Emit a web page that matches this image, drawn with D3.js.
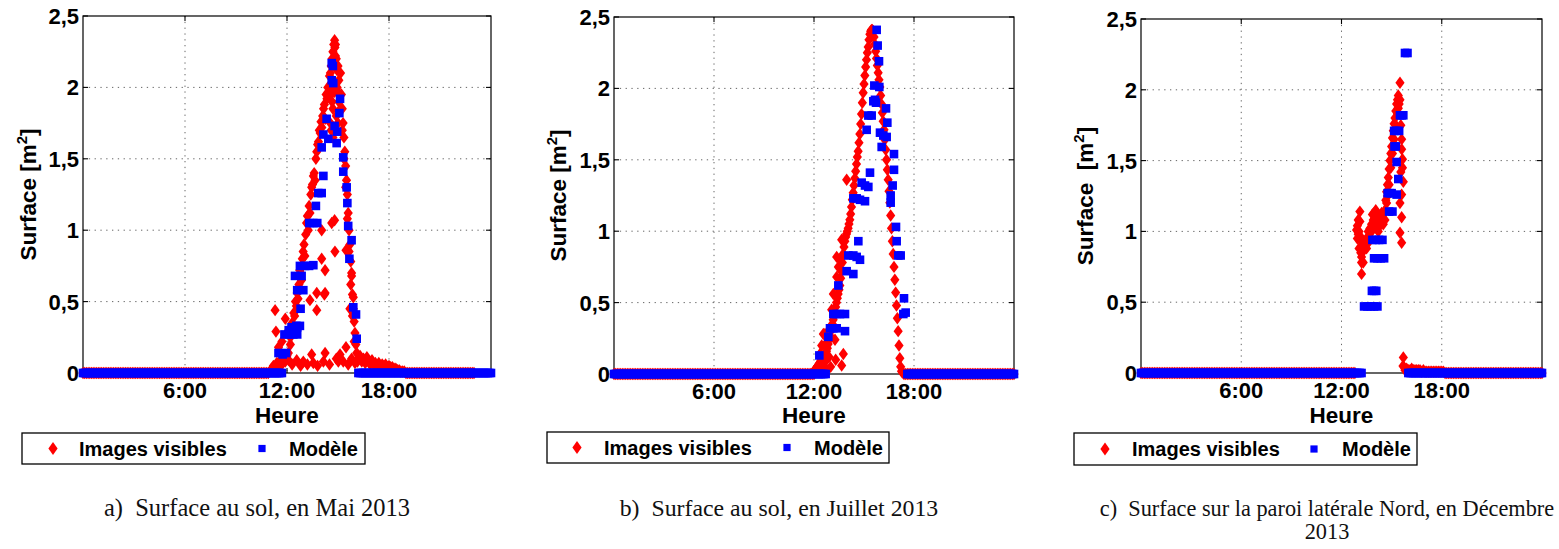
<!DOCTYPE html>
<html><head><meta charset="utf-8">
<script src="https://cdn.jsdelivr.net/npm/d3@7"></script>
<style>
html,body{margin:0;padding:0;background:#fff;}
svg{display:block;}
text{white-space:pre;}
</style></head><body>
<svg id="chart" width="1559" height="549"></svg>
<script>
// ---------- shared categories / ticks ----------
const dayHours = [
0,0.1,0.2,0.3,0.4,0.5,0.6,0.7,0.8,0.9,
1,1.1,1.2,1.3,1.4,1.5,1.6,1.7,1.8,1.9,
2,2.1,2.2,2.3,2.4,2.5,2.6,2.7,2.8,2.9,
3,3.1,3.2,3.3,3.4,3.5,3.6,3.7,3.8,3.9,
4,4.1,4.2,4.3,4.4,4.5,4.6,4.7,4.8,4.9,
5,5.1,5.2,5.3,5.4,5.5,5.6,5.7,5.8,5.9,
6,6.1,6.2,6.3,6.4,6.5,6.6,6.7,6.8,6.9,
7,7.1,7.2,7.3,7.4,7.5,7.6,7.7,7.8,7.9,
8,8.1,8.2,8.3,8.4,8.5,8.6,8.7,8.8,8.9,
9,9.1,9.2,9.3,9.4,9.5,9.6,9.7,9.8,9.9,
10,10.1,10.2,10.3,10.4,10.5,10.6,10.7,10.8,10.9,
11,11.1,11.2,11.3,11.4,11.5,11.6,11.7,11.8,11.9,
12,12.1,12.2,12.3,12.4,12.5,12.6,12.7,12.8,12.9,
13,13.1,13.2,13.3,13.4,13.5,13.6,13.7,13.8,13.9,
14,14.1,14.2,14.3,14.4,14.5,14.6,14.7,14.8,14.9,
15,15.1,15.2,15.3,15.4,15.5,15.6,15.7,15.8,15.9,
16,16.1,16.2,16.3,16.4,16.5,16.6,16.7,16.8,16.9,
17,17.1,17.2,17.3,17.4,17.5,17.6,17.7,17.8,17.9,
18,18.1,18.2,18.3,18.4,18.5,18.6,18.7,18.8,18.9,
19,19.1,19.2,19.3,19.4,19.5,19.6,19.7,19.8,19.9,
20,20.1,20.2,20.3,20.4,20.5,20.6,20.7,20.8,20.9,
21,21.1,21.2,21.3,21.4,21.5,21.6,21.7,21.8,21.9,
22,22.1,22.2,22.3,22.4,22.5,22.6,22.7,22.8,22.9,
23,23.1,23.2,23.3,23.4,23.5,23.6,23.7,23.8,23.9,
24];
const xTickHours = [6, 12, 18];
const xTickLabels = ["6:00", "12:00", "18:00"];
const yTickValues = [0, 0.5, 1, 1.5, 2, 2.5];
const yTickLabels = ["0", "0,5", "1", "1,5", "2", "2,5"];
const seriesNames = ["Images visibles", "Modèle"];
const xAxisTitle = "Heure";
const captionsLine1 = ["a)  Surface au sol, en Mai 2013", "b)  Surface au sol, en Juillet 2013", "c)  Surface sur la paroi latérale Nord, en Décembre"];
const captionsLine2 = ["", "", "2013"];

// ---------- (a) Mai 2013 ----------
// hours ranges of the day where the series reads 0
const mayImagesZeroRuns = [[0, 10.9], [19.0, 23.0]];
const mayModelZeroRuns = [[0, 11.7], [16.2, 24]];
const mayImages = [
[11.1,0.03],[11.2,0.05],[11.3,0.04],[11.4,0.07],[11.5,0.05],[11.6,0.09],[11.7,0.06],[11.8,0.1],[11.9,0.08],[12.0,0.12],[12.1,0.09],
[11.3,0.44],[11.35,0.29],[11.5,0.18],[11.9,0.38],[11.7,0.22],[12.1,0.3],[12.2,0.2],[12.08,0.14],
[12.3,0.06],[12.57,0.09],[12.8,0.05],[12.96,0.08],[13.2,0.06],[13.45,0.13],[13.55,0.07],[13.8,0.05],[14.14,0.08],[14.24,0.14],[14.5,0.06],[14.9,0.1],[15.02,0.08],[15.12,0.13],[15.31,0.08],[15.6,0.06],[15.8,0.1],[16.0,0.07],
[16.2,0.1],[16.3,0.12],[16.4,0.08],[16.5,0.1],[16.6,0.07],[16.7,0.11],[16.8,0.08],[16.9,0.06],[17.0,0.09],[17.1,0.06],[17.2,0.07],[17.3,0.05],[17.4,0.07],[17.5,0.05],[17.6,0.06],[17.7,0.05],[17.8,0.06],[17.9,0.04],[18.0,0.05],[18.1,0.04],[18.2,0.04],[18.3,0.03],[18.4,0.03],[18.5,0.02],[18.6,0.02],[18.7,0.01],[18.8,0.01],[18.9,0.01],
[12.2,0.25],[12.3,0.35],[12.4,0.42],[12.5,0.5],[12.6,0.56],[12.7,0.62],[12.8,0.7],[12.9,0.8],[13.0,0.9],[13.1,0.97],[13.2,1.1],[13.3,1.17],[13.4,1.25],[13.5,1.32],[13.6,1.4],[13.7,1.5],[13.8,1.6],[13.9,1.7],[14.0,1.76],[14.1,1.8],[14.2,1.88],[14.3,1.95],[14.4,2.0],[14.5,2.08],[14.6,2.15],[14.7,2.25],[14.8,2.33],
[12.35,0.3],[12.45,0.4],[12.55,0.47],[12.65,0.52],[12.75,0.72],[12.85,0.65],[12.95,0.85],[13.05,0.82],[13.15,1.05],[13.25,1.0],[13.35,1.12],[13.45,1.3],[13.55,1.38],[13.65,1.35],[13.75,1.55],[13.85,1.62],[13.95,1.68],[14.05,1.72],[14.15,1.85],[14.25,1.78],[14.35,1.92],[14.45,1.96],[14.55,2.1],[14.65,2.2],[14.75,2.3],[14.82,2.28],
[14.85,2.3],[14.9,2.2],[14.95,2.12],[15.0,2.15],[15.05,2.05],[14.6,1.95],[14.65,1.9],[14.7,1.85],[14.75,2.0],[14.8,1.97],[14.9,1.8],[15.0,1.75],[15.1,1.95],[15.15,2.1],[14.55,1.75],[14.6,1.7],[14.7,1.65],[14.85,2.22],[14.95,2.0],[15.05,1.9],
[15.2,1.95],[15.25,1.85],[15.3,1.75],[15.35,1.65],[15.4,1.55],[15.45,1.45],[15.5,1.35],[15.55,1.25],[15.6,1.12],[15.65,1.0],[15.7,0.9],[15.75,0.78],[15.8,0.68],[15.85,0.55],[15.9,0.45],[15.95,0.36],[16.0,0.28],[16.05,0.2],[16.1,0.14],[16.15,0.08],
[15.15,1.85],[15.25,1.7],[15.35,1.5],[15.45,1.3],[15.55,1.08],[15.65,0.85],[15.75,0.62],[15.85,0.4],[15.95,0.22],
[14.04,1.0],[14.63,1.05],[14.8,1.07],[14.04,0.8],[14.24,0.72],[14.82,0.85],[14.24,0.56],[13.35,0.51],[13.75,0.44],[13.75,0.56],[15.47,0.86],[15.8,0.7],[15.9,0.53],[15.7,0.45],[15.47,0.18],[14.2,0.55]
];
const mayModel = [
[11.5,0.14],[11.75,0.13],[11.94,0.14],[11.85,0.27],[12.08,0.27],[12.1,0.3],[12.3,0.3],[12.37,0.27],[12.27,0.32],[12.55,0.33],[12.6,0.32],[12.6,0.27],[12.76,0.33],[12.8,0.45],[12.6,0.58],[12.96,0.58],[12.47,0.68],[12.86,0.68],
[12.76,0.75],[13.06,0.75],[13.3,0.75],[13.55,0.755],[13.31,1.05],[13.55,1.05],[13.78,1.05],[13.7,1.17],[13.84,1.26],[14.04,1.26],[14.14,1.38],[14.04,1.58],[14.14,1.67],[14.43,1.64],[14.33,1.78],[14.8,1.73],[14.95,1.69],[14.92,1.61],
[14.63,2.17],[14.7,2.15],[14.63,2.05],[14.72,2.03],[15.12,1.92],[15.08,1.82],[15.31,1.51],[15.31,1.41],[15.51,1.3],[15.55,1.19],[15.6,1.03],[15.8,0.93],[15.67,0.8],[15.9,0.46],[16.06,0.41],[16.1,0.24]
];

// ---------- (b) Juillet 2013 ----------
const julyImagesZeroRuns = [[0, 12.0], [17.4, 24]];
const julyModelZeroRuns = [[0, 12.7], [17.6, 24]];
const julyImages = [
[12.0,0.02],[12.05,0.03],[12.1,0.03],[12.15,0.04],[12.2,0.05],[12.25,0.06],[12.3,0.07],[12.35,0.08],[12.4,0.09],[12.45,0.1],[12.5,0.11],[12.55,0.12],[12.6,0.13],[12.65,0.14],[12.7,0.15],[12.75,0.16],[12.8,0.18],[12.85,0.21],[12.9,0.24],[12.95,0.27],
[13.0,0.3],[13.05,0.32],[13.1,0.35],[13.15,0.38],[13.2,0.41],[13.25,0.44],[13.3,0.47],[13.35,0.5],[13.4,0.53],[13.45,0.56],[13.5,0.59],[13.55,0.62],[13.6,0.67],[13.65,0.72],[13.7,0.78],[13.75,0.84],[13.8,0.89],[13.85,0.93],[13.9,0.96],[13.95,0.98],
[14.0,1.0],[14.05,1.02],[14.1,1.05],[14.15,1.08],[14.2,1.12],[14.25,1.17],[14.3,1.22],[14.35,1.27],[14.4,1.32],[14.45,1.37],[14.5,1.42],[14.55,1.47],[14.6,1.52],[14.65,1.56],[14.7,1.62],[14.75,1.68],[14.8,1.75],[14.85,1.82],[14.9,1.9],[14.95,1.97],
[15.0,2.03],[15.05,2.09],[15.1,2.15],[15.15,2.2],[15.2,2.25],[15.25,2.29],[15.3,2.34],[15.35,2.38],[15.4,2.4],[15.45,2.41],[15.5,2.41],
[15.55,2.4],[15.6,2.36],[15.65,2.31],[15.7,2.26],[15.75,2.21],[15.8,2.16],[15.85,2.11],[15.9,2.06],[15.95,2.01],[16.0,1.95],[16.05,1.89],[16.1,1.83],[16.15,1.77],[16.2,1.71],[16.25,1.64],[16.3,1.57],[16.35,1.5],[16.4,1.43],[16.45,1.36],[16.5,1.28],
[16.55,1.2],[16.6,1.11],[16.65,1.02],[16.7,0.93],[16.75,0.84],[16.8,0.75],[16.85,0.66],[16.9,0.57],[16.95,0.48],[17.0,0.39],[17.05,0.3],[17.1,0.2],[17.15,0.11],[17.2,0.05],[17.25,0.02],[17.3,0.01],
[13.96,1.36],[13.66,0.94],[13.36,0.82],[13.16,0.56],[13.36,0.68],[12.66,0.28],[12.76,0.22],[12.36,0.14],[13.76,0.14],[13.66,0.06],[13.26,0.24],[12.76,0.03],[12.76,0.1],[12.56,0.28],[12.46,0.2],[13.06,0.45],[13.46,0.75],[13.56,0.8],[12.9,0.12],[13.0,0.05],[12.6,0.05],[12.3,0.03],[13.3,0.1]
];
const julyModel = [
[12.32,0.13],[12.86,0.26],[12.96,0.32],[13.16,0.32],[13.36,0.32],[13.86,0.3],[13.16,0.42],[13.36,0.42],[13.56,0.42],[13.86,0.42],[13.46,0.62],[14.06,0.83],[14.36,0.83],[14.56,0.82],[14.76,0.8],[13.96,0.72],[14.36,0.7],[14.66,0.93],
[14.36,1.23],[14.56,1.23],[14.76,1.22],[15.06,1.21],[14.86,1.34],[15.06,1.32],[15.26,1.31],[15.36,1.41],[15.16,1.71],[15.26,1.81],[15.46,1.81],[15.56,1.91],[15.72,1.9],[15.66,1.92],[15.62,2.02],[15.92,2.01],[15.76,2.41],[15.82,2.3],[15.9,2.19],
[15.96,1.69],[16.06,1.59],[16.16,1.67],[16.36,1.66],[16.32,1.86],[16.4,1.76],[16.8,1.54],[16.8,1.43],[16.6,1.25],[16.72,1.32],[16.6,1.2],[16.92,1.03],[16.96,0.93],[17.06,0.83],[17.2,0.83],[17.4,0.53],[17.36,0.42],[17.5,0.43]
];

// ---------- (c) Décembre 2013 ----------
const decImagesZeroRuns = [[0, 12.8], [18.2, 24]];
const decModelZeroRuns = [[0, 13.2], [16.0, 24]];
const decImages = [
[12.9,1.01],[12.95,0.95],[13.0,1.08],[13.05,0.88],[13.1,1.14],[13.1,1.07],[13.15,0.85],[13.2,0.7],[13.2,0.78],[13.25,0.92],[13.3,0.78],[13.05,1.0],[13.15,0.96],[13.3,0.86],[13.35,0.93],[13.0,0.98],[13.2,0.82],[12.95,1.04],
[13.4,0.9],[13.5,0.95],[13.6,1.0],[13.7,1.02],[13.8,1.05],[13.9,1.08],[14.0,1.1],[14.1,1.1],[14.2,1.08],[14.3,1.1],[14.4,1.13],[14.5,1.12],[14.6,1.15],[14.7,1.2],
[13.5,0.88],[13.6,0.92],[13.7,0.96],[13.8,1.0],[13.9,1.02],[14.0,1.04],[14.1,1.02],[14.2,1.0],[14.3,1.04],[14.4,1.06],[14.5,1.05],[14.6,1.08],[13.95,1.13],[13.85,1.12],[14.05,1.15],
[14.65,1.22],[14.7,1.28],[14.75,1.33],[14.8,1.38],[14.85,1.44],[14.9,1.5],[14.95,1.55],[15.0,1.6],[15.05,1.66],[15.1,1.71],[15.15,1.76],[15.2,1.8],[15.25,1.85],[15.3,1.9],[15.35,1.93],[15.4,1.96],[15.5,2.05],
[14.75,1.25],[14.85,1.33],[14.95,1.45],[15.05,1.55],[15.15,1.65],[15.25,1.75],[15.35,1.83],[15.45,1.9],
[15.6,1.58],[15.65,1.51],[15.7,1.35],[15.6,1.26],[15.6,1.1],[15.5,0.99],[15.6,0.92],[15.5,1.2],[15.5,1.93],[15.4,1.87],[15.55,1.75],[15.6,1.65],[15.55,1.42],[15.65,1.45],
[15.7,0.11],[15.68,0.05],[15.75,0.04],[15.8,0.02],[15.9,0.03],[16.0,0.02],[16.1,0.02],[16.2,0.03],[16.3,0.02],[16.4,0.02],[16.5,0.02],[16.6,0.02],[16.7,0.02],[16.8,0.01],[16.9,0.02],[17.0,0.01],[17.1,0.01],[17.2,0.01],[17.3,0.01],[17.4,0.01],[17.5,0.01],[17.6,0.01],[17.7,0.01],[17.8,0.01],[17.9,0.01],[18.0,0.01],[18.1,0.01]
];
const decModel = [
[13.35,0.47],[13.55,0.47],[13.75,0.47],[13.95,0.47],[14.15,0.47],
[13.82,0.58],[13.95,0.58],[14.08,0.58],
[13.95,0.81],[14.15,0.81],[14.35,0.81],[14.55,0.81],
[13.85,0.94],[14.05,0.94],[14.25,0.94],[14.45,0.94],
[14.85,1.14],[15.05,1.14],
[14.76,1.27],[14.9,1.27],[15.0,1.27],[15.3,1.26],
[15.4,1.37],[15.3,1.49],[15.17,1.6],[15.25,1.6],[15.15,1.71],[15.3,1.71],[15.45,1.71],
[15.5,1.82],[15.6,1.82],[15.7,1.82],[15.8,2.26],[15.95,2.26]
];

// ---------- layout ----------
const panelLayout = [
  {l:83, r:491, t:16, b:373, ylabX:35.5, ylabSep:" ", legend:{x:22, y:433, w:343, h:31, m1:53, t1:79, m2:262, t2:289}, capX:257, capSize:24.5},
  {l:614, r:1014, t:17, b:374, ylabX:566, ylabSep:" ", legend:{x:547, y:432, w:342, h:31, m1:577, t1:604, m2:787, t2:814}, capX:779, capSize:23.8},
  {l:1141, r:1542, t:19, b:373, ylabX:1093, ylabSep:"  ", legend:{x:1074, y:433, w:343, h:32, m1:1105, t1:1132, m2:1314, t2:1342}, capX:1327, capSize:22.3}
];
const panelData = [
  {images: mayImages, imagesZero: mayImagesZeroRuns, model: mayModel, modelZero: mayModelZeroRuns},
  {images: julyImages, imagesZero: julyImagesZeroRuns, model: julyModel, modelZero: julyModelZeroRuns},
  {images: decImages, imagesZero: decImagesZeroRuns, model: decModel, modelZero: decModelZeroRuns}
];

const RED = "#ff0000", BLUE = "#0000ff";
const SANS = "'Liberation Sans', Arial, Helvetica, sans-serif";
const SERIF = "'Liberation Serif', 'Times New Roman', serif";
const diamondPath = "M0,-6.2L4.6,0L0,6.2L-4.6,0Z";
const SQ = 8.6;

const svg = d3.select("#chart");

function zeroPoints(runs) {
  return dayHours.filter(h => runs.some(([a, b]) => h >= a - 1e-6 && h <= b + 1e-6)).map(h => [h, 0]);
}

panelLayout.forEach((L, i) => {
  const D = panelData[i];
  const x = d3.scaleLinear().domain([0, 24]).range([L.l, L.r]);
  const y = d3.scaleLinear().domain([0, 2.5]).range([L.b, L.t]);
  const g = svg.append("g");

  // grid
  g.append("g").selectAll("line.vg").data(xTickHours).join("line")
    .attr("x1", d => x(d)).attr("x2", d => x(d)).attr("y1", L.t).attr("y2", L.b)
    .attr("stroke", "#555").attr("stroke-width", 0.9).attr("stroke-dasharray", "1.3,4.5");
  g.append("g").selectAll("line.hg").data(yTickValues.filter(v => v > 0 && v < 2.5)).join("line")
    .attr("x1", L.l).attr("x2", L.r).attr("y1", d => y(d)).attr("y2", d => y(d))
    .attr("stroke", "#555").attr("stroke-width", 0.9).attr("stroke-dasharray", "1.3,4.5");

  // frame
  g.append("rect").attr("x", L.l).attr("y", L.t).attr("width", L.r - L.l).attr("height", L.b - L.t)
    .attr("fill", "none").attr("stroke", "#000").attr("stroke-width", 1.2);

  // inside ticks on all four sides
  const tk = 5;
  const tg = g.append("g").attr("stroke", "#000").attr("stroke-width", 1.1);
  xTickHours.forEach(h => {
    tg.append("line").attr("x1", x(h)).attr("x2", x(h)).attr("y1", L.b).attr("y2", L.b - tk);
    tg.append("line").attr("x1", x(h)).attr("x2", x(h)).attr("y1", L.t).attr("y2", L.t + tk);
  });
  yTickValues.forEach(v => {
    tg.append("line").attr("x1", L.l).attr("x2", L.l + tk).attr("y1", y(v)).attr("y2", y(v));
    tg.append("line").attr("x1", L.r).attr("x2", L.r - tk).attr("y1", y(v)).attr("y2", y(v));
  });

  // tick labels
  g.append("g").selectAll("text").data(xTickHours).join("text")
    .attr("x", d => x(d)).attr("y", L.b + 25).attr("text-anchor", "middle")
    .attr("font-family", SANS).attr("font-weight", "bold").attr("font-size", 22)
    .text((d, k) => xTickLabels[k]);
  g.append("g").selectAll("text").data(yTickValues).join("text")
    .attr("x", L.l - 4).attr("y", d => y(d)).attr("dy", "0.36em").attr("text-anchor", "end")
    .attr("font-family", SANS).attr("font-weight", "bold").attr("font-size", 22)
    .text((d, k) => yTickLabels[k]);

  // axis titles
  g.append("text").attr("x", (L.l + L.r) / 2).attr("y", 423).attr("text-anchor", "middle")
    .attr("font-family", SANS).attr("font-weight", "bold").attr("font-size", 22.5).text(xAxisTitle);
  const yt = g.append("text")
    .attr("transform", `translate(${L.ylabX},${(L.t + L.b) / 2}) rotate(-90)`)
    .attr("text-anchor", "middle").attr("xml:space", "preserve")
    .attr("font-family", SANS).attr("font-weight", "bold").attr("font-size", 22.5);
  yt.append("tspan").text("Surface" + L.ylabSep + "[m");
  yt.append("tspan").attr("dy", -9).attr("font-size", 15).text("2");
  yt.append("tspan").attr("dy", 9).text("]");

  // data: Images visibles (red diamonds), then Modèle (blue squares)
  const imgPts = zeroPoints(D.imagesZero).concat(D.images);
  const modPts = zeroPoints(D.modelZero).concat(D.model);
  g.append("g").selectAll("path").data(imgPts).join("path")
    .attr("d", diamondPath)
    .attr("transform", d => `translate(${x(d[0])},${y(d[1])})`)
    .attr("fill", RED);
  g.append("g").selectAll("rect").data(modPts).join("rect")
    .attr("x", d => x(d[0]) - SQ / 2).attr("y", d => y(d[1]) - SQ / 2)
    .attr("width", SQ).attr("height", SQ).attr("fill", BLUE);

  // legend
  const lg = L.legend;
  const cy = lg.y + lg.h / 2;
  g.append("rect").attr("x", lg.x).attr("y", lg.y).attr("width", lg.w).attr("height", lg.h)
    .attr("fill", "#fff").attr("stroke", "#000").attr("stroke-width", 1.3);
  g.append("path").attr("d", "M0,-6.5L4.6,0L0,6.5L-4.6,0Z").attr("transform", `translate(${lg.m1},${cy})`).attr("fill", RED);
  g.append("rect").attr("x", lg.m2 - 3.6).attr("y", cy - 3.6).attr("width", 7.2).attr("height", 7.2).attr("fill", BLUE);
  g.append("text").attr("x", lg.t1).attr("y", cy + 7).attr("font-family", SANS).attr("font-weight", "bold")
    .attr("font-size", 20).text(seriesNames[0]);
  g.append("text").attr("x", lg.t2).attr("y", cy + 7).attr("font-family", SANS).attr("font-weight", "bold")
    .attr("font-size", 20).text(seriesNames[1]);

  // caption
  g.append("text").attr("x", L.capX).attr("y", 516).attr("text-anchor", "middle").attr("xml:space", "preserve")
    .attr("font-family", SERIF).attr("font-size", L.capSize).attr("fill", "#111").text(captionsLine1[i]);
  if (captionsLine2[i]) {
    g.append("text").attr("x", L.capX).attr("y", 539).attr("text-anchor", "middle")
      .attr("font-family", SERIF).attr("font-size", L.capSize).attr("fill", "#111").text(captionsLine2[i]);
  }
});
</script>
</body></html>
